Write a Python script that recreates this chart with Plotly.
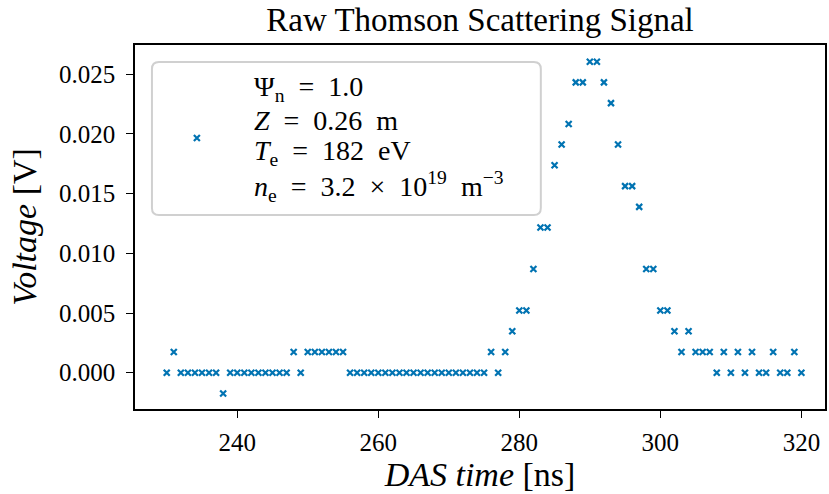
import plotly.graph_objects as go

# ---- data ----
time_ns = [230, 231, 232, 233, 234, 235, 236, 237, 238, 239,
           240, 241, 242, 243, 244, 245, 246, 247, 248, 249,
           250, 251, 252, 253, 254, 255, 256, 257, 258, 259,
           260, 261, 262, 263, 264, 265, 266, 267, 268, 269,
           270, 271, 272, 273, 274, 275, 276, 277, 278, 279,
           280, 281, 282, 283, 284, 285, 286, 287, 288, 289,
           290, 291, 292, 293, 294, 295, 296, 297, 298, 299,
           300, 301, 302, 303, 304, 305, 306, 307, 308, 309,
           310, 311, 312, 313, 314, 315, 316, 317, 318, 319,
           320]
voltage = [0.0, 0.00174, 0.0, 0.0, 0.0, 0.0, 0.0, 0.0, -0.00174, 0.0,
           0.0, 0.0, 0.0, 0.0, 0.0, 0.0, 0.0, 0.0, 0.00174, 0.0,
           0.00174, 0.00174, 0.00174, 0.00174, 0.00174, 0.00174, 0.0, 0.0, 0.0, 0.0,
           0.0, 0.0, 0.0, 0.0, 0.0, 0.0, 0.0, 0.0, 0.0, 0.0,
           0.0, 0.0, 0.0, 0.0, 0.0, 0.0, 0.00174, 0.0, 0.00174, 0.00347,
           0.00521, 0.00521, 0.00868, 0.01216, 0.01216, 0.01737, 0.01911, 0.02084, 0.02432, 0.02432,
           0.02605, 0.02605, 0.02432, 0.02258, 0.01911, 0.01563, 0.01563, 0.01389, 0.00868, 0.00868,
           0.00521, 0.00521, 0.00347, 0.00174, 0.00347, 0.00174, 0.00174, 0.00174, 0.0, 0.00174,
           0.0, 0.00174, 0.0, 0.00174, 0.0, 0.0, 0.00174, 0.0, 0.0, 0.00174,
           0.0]
x_ticks = [240, 260, 280, 300, 320]
y_ticks = [0.000, 0.005, 0.010, 0.015, 0.020, 0.025]
SP = "\u2002"  # en space, mimics TeX math spacing
legend_lines = [
    f"Ψ<sub>n</sub>{SP}={SP}1.0",
    f"<i>Z</i>{SP}={SP}0.26{SP}m",
    f"<i>T</i><sub>e</sub>{SP}={SP}182{SP}eV",
    f"<i>n</i><sub>e</sub>{SP}={SP}3.2{SP}×{SP}10<sup>19</sup>{SP}m<sup>−3</sup>",
]

FONT = "Liberation Serif"
BLUE = "#0173b2"

W, H = 829, 494
ML, MR, MT, MB = 135, 2, 45, 85
PW, PH = W - ML - MR, H - MT - MB


def px(x):
    return (x - ML) / PW


def py(y):
    return (H - MB - y) / PH


fig = go.Figure()
fig.add_trace(go.Scatter(
    x=time_ns, y=voltage, mode="markers", name="\u00a0",
    marker=dict(symbol="x-thin", size=6, color=BLUE,
                line=dict(color=BLUE, width=2.2)),
    showlegend=True,
))

# rounded legend frame
x0, x1, y0, y1 = px(152), px(542), py(215), py(62)
rx, ry = 7 / PW, 7 / PH
path = (f"M {x0+rx},{y0} L {x1-rx},{y0} Q {x1},{y0} {x1},{y0+ry} "
        f"L {x1},{y1-ry} Q {x1},{y1} {x1-rx},{y1} L {x0+rx},{y1} "
        f"Q {x0},{y1} {x0},{y1-ry} L {x0},{y0+ry} Q {x0},{y0} {x0+rx},{y0} Z")
fig.add_shape(type="path", path=path, xref="paper", yref="paper",
              line=dict(color="#d0d0d0", width=2),
              fillcolor="rgba(255,255,255,0.8)", layer="above")

line_centers = [88, 120, 152, 187]
for txt, yc in zip(legend_lines, line_centers):
    fig.add_annotation(text=txt, xref="paper", yref="paper",
                       x=px(252), y=py(yc), xanchor="left", yanchor="middle",
                       showarrow=False, font=dict(family=FONT, size=28, color="black"))

fig.update_layout(
    width=W, height=H,
    margin=dict(l=ML, r=MR, t=MT, b=MB),
    paper_bgcolor="white", plot_bgcolor="white",
    font=dict(family=FONT, color="black"),
    title=dict(text="Raw Thomson Scattering Signal", x=0.5, xref="paper",
               xanchor="center", y=1 - 19 / H, yanchor="middle",
               font=dict(family=FONT, size=33, color="black")),
    legend=dict(x=px(177), y=py(138), xanchor="left", yanchor="middle",
                bgcolor="rgba(0,0,0,0)", borderwidth=0,
                font=dict(family=FONT, size=20)),
)
fig.update_xaxes(
    range=[225.5, 323.35], tickvals=x_ticks, ticktext=[str(v) for v in x_ticks],
    showgrid=False, zeroline=False, showline=True, linecolor="black", linewidth=1.6,
    mirror=True, ticks="outside", ticklen=7, tickwidth=1.4, tickcolor="black",
    tickfont=dict(family=FONT, size=25), ticklabelstandoff=3,
    title=dict(text="<i>DAS time</i> [ns]", font=dict(family=FONT, size=34), standoff=5),
)
fig.update_yaxes(
    range=[-0.00304, 0.02745], tickvals=y_ticks, ticktext=[f"{v:.3f}" for v in y_ticks],
    showgrid=False, zeroline=False, showline=True, linecolor="black", linewidth=1.6,
    mirror=True, ticks="outside", ticklen=7, tickwidth=1.4, tickcolor="black",
    tickfont=dict(family=FONT, size=25), ticklabelstandoff=6,
    title=dict(text="<i>Voltage</i> [V]", font=dict(family=FONT, size=34), standoff=12),
)

fig.write_html("out.html")
